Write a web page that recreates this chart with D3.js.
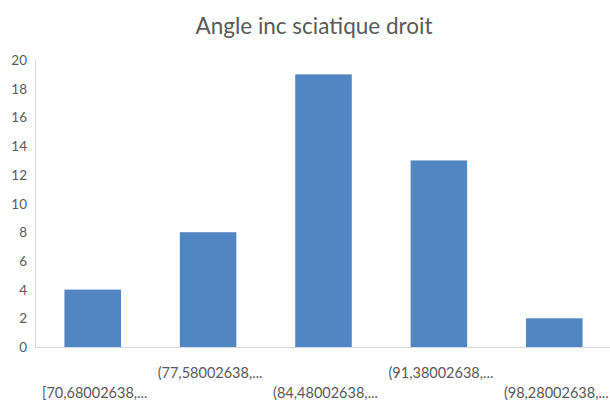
<!DOCTYPE html>
<html>
<head>
<meta charset="utf-8">
<script src="https://cdn.jsdelivr.net/npm/d3@7"></script>
<style>
  body { margin: 0; background: #fff; }
  text { font-family: Lato, "Open Sans", sans-serif; fill: #595959; }
</style>
</head>
<body>
<div id="chart"></div>
<script>
var categories = ["[70,68002638,...", "(77,58002638,...", "(84,48002638,...", "(91,38002638,...", "(98,28002638,..."]
var counts = [4, 8, 19, 13, 2]
var yTicks = [0, 2, 4, 6, 8, 10, 12, 14, 16, 18, 20]

var width = 610, height = 408
var margin = {top: 60, right: 0, bottom: 61, left: 35}

var svg = d3.select("#chart").append("svg")
    .attr("width", width)
    .attr("height", height)

var x = d3.scaleBand()
    .domain(categories)
    .range([margin.left, width - margin.right + 2])
    .paddingInner(0.51)
    .paddingOuter(0.255)

var y = d3.scaleLinear()
    .domain([0, 20])
    .range([height - margin.bottom, margin.top])

// title
svg.append("text")
    .attr("x", 314)
    .attr("y", 34)
    .attr("text-anchor", "middle")
    .style("font-size", "22.5px")
    .text("Angle inc sciatique droit")

// y axis line
svg.append("line")
    .attr("x1", margin.left + 0.5).attr("x2", margin.left + 0.5)
    .attr("y1", y(20)).attr("y2", y(0))
    .attr("stroke", "#d9d9d9")

// y tick labels
svg.selectAll(".ytick")
    .data(yTicks)
    .enter().append("text")
    .attr("class", "ytick")
    .attr("x", 27)
    .attr("y", function(d) { return y(d) + 5 })
    .attr("text-anchor", "end")
    .style("font-size", "13.5px")
    .text(function(d) { return d })

// bars
svg.selectAll(".bar")
    .data(counts)
    .enter().append("rect")
    .attr("class", "bar")
    .attr("x", function(d, i) { return x(categories[i]) })
    .attr("width", x.bandwidth())
    .attr("y", function(d) { return y(d) })
    .attr("height", function(d) { return y(0) - y(d) })
    .attr("fill", "#5185c3")

// x axis line
svg.append("line")
    .attr("x1", margin.left).attr("x2", width)
    .attr("y1", y(0) + 0.5).attr("y2", y(0) + 0.5)
    .attr("stroke", "#d9d9d9")

// staggered category labels
svg.selectAll(".xlab")
    .data(categories)
    .enter().append("text")
    .attr("class", "xlab")
    .attr("x", function(d) { return x(d) + x.bandwidth() / 2 + 2 })
    .attr("y", function(d, i) { return i % 2 == 0 ? 398 : 378 })
    .attr("text-anchor", "middle")
    .style("font-size", "14.5px")
    .text(function(d) { return d })
</script>
</body>
</html>
